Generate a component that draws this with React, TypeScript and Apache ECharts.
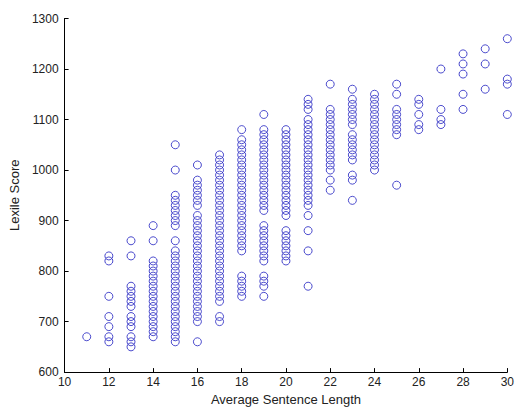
import React, { useEffect, useRef } from "react";
import * as echarts from "echarts";

const xTicks = [10, 12, 14, 16, 18, 20, 22, 24, 26, 28, 30];
const yTicks = [600, 700, 800, 900, 1000, 1100, 1200, 1300];

const c11 = [670];
const c12 = [830, 820, 750, 710, 690, 670, 660];
const c13 = [860, 830, 770, 760, 750, 740, 730, 710, 700, 690, 670, 660, 650];
const c14 = [890, 860, 820, 810, 800, 790, 780, 770, 760, 750, 740, 730, 720, 710, 700, 690, 680, 670];
const c15 = [1050, 1000, 950, 940, 930, 920, 910, 900, 890, 860, 840, 830, 820, 810, 800, 790, 780, 770, 760, 750, 740, 730, 720, 710, 700, 690, 680, 670, 660];
const c16 = [1010, 980, 970, 960, 950, 940, 930, 910, 900, 890, 880, 870, 860, 850, 840, 830, 820, 810, 800, 790, 780, 770, 760, 750, 740, 730, 720, 710, 700, 660];
const c17 = [1030, 1020, 1010, 1000, 990, 980, 970, 960, 950, 940, 930, 920, 910, 900, 890, 880, 870, 860, 850, 840, 830, 820, 810, 800, 790, 780, 770, 760, 750, 740, 710, 700];
const c18 = [1080, 1060, 1050, 1040, 1030, 1020, 1010, 1000, 990, 980, 970, 960, 950, 940, 930, 920, 910, 900, 890, 880, 870, 860, 850, 840, 790, 780, 770, 760, 750];
const c19 = [1110, 1080, 1070, 1060, 1050, 1040, 1030, 1020, 1010, 1000, 990, 980, 970, 960, 950, 940, 930, 920, 890, 880, 870, 860, 850, 840, 830, 820, 790, 780, 770, 750];
const c20 = [1080, 1070, 1060, 1050, 1040, 1030, 1020, 1010, 1000, 990, 980, 970, 960, 950, 940, 930, 920, 910, 880, 870, 860, 850, 840, 830, 820];
const c21 = [1140, 1130, 1120, 1100, 1090, 1080, 1070, 1060, 1050, 1040, 1030, 1020, 1010, 1000, 990, 980, 970, 960, 950, 940, 930, 910, 880, 840, 770];
const c22 = [1170, 1120, 1110, 1100, 1090, 1080, 1070, 1060, 1050, 1040, 1030, 1020, 1010, 1000, 980, 960];
const c23 = [1160, 1140, 1130, 1120, 1110, 1100, 1090, 1070, 1060, 1050, 1040, 1030, 1020, 990, 980, 940];
const c24 = [1150, 1140, 1130, 1120, 1110, 1100, 1090, 1080, 1070, 1060, 1050, 1040, 1030, 1020, 1010, 1000];
const c25 = [1170, 1150, 1120, 1110, 1100, 1090, 1080, 1070, 970];
const c26 = [1140, 1130, 1110, 1090, 1080];
const c27 = [1200, 1120, 1100, 1090];
const c28 = [1230, 1210, 1190, 1150, 1120];
const c29 = [1240, 1210, 1160];
const c30 = [1260, 1180, 1170, 1110];

const sentenceLengths = [11, 12, 13, 14, 15, 16, 17, 18, 19, 20, 21, 22, 23, 24, 25, 26, 27, 28, 29, 30];
const scoresByLength = [c11, c12, c13, c14, c15, c16, c17, c18, c19, c20, c21, c22, c23, c24, c25, c26, c27, c28, c29, c30];

export default function App() {
  const ref = useRef<HTMLDivElement>(null);
  useEffect(() => {
    document.body.style.margin = "0";
    if (!ref.current) return;
    const chart = echarts.init(ref.current, null, { renderer: "svg" });
    const points: number[][] = [];
    sentenceLengths.forEach((x, i) => {
      scoresByLength[i].forEach((y) => points.push([x, y]));
    });
    const font = "Liberation Sans, Arial, Helvetica, sans-serif";
    chart.setOption({
      animation: false,
      backgroundColor: "#ffffff",
      grid: { left: 61, right: 5, top: 18.5, bottom: 37, containLabel: false },
      xAxis: {
        type: "value",
        min: xTicks[0],
        max: xTicks[xTicks.length - 1],
        interval: 2,
        name: "Average Sentence Length",
        nameLocation: "middle",
        nameGap: 20,
        nameTextStyle: { color: "#222", fontSize: 13, fontFamily: font },
        axisLine: { show: true, lineStyle: { color: "#000", width: 1 } },
        axisTick: { show: true, inside: true, length: 4, lineStyle: { color: "#000" } },
        axisLabel: { color: "#222", fontSize: 12, fontFamily: font, margin: 4 },
        splitLine: { show: false },
      },
      yAxis: {
        type: "value",
        min: yTicks[0],
        max: yTicks[yTicks.length - 1],
        interval: 100,
        name: "Lexile Score",
        nameLocation: "middle",
        nameGap: 36,
        nameTextStyle: { color: "#222", fontSize: 13, fontFamily: font },
        axisLine: { show: true, lineStyle: { color: "#000", width: 1 } },
        axisTick: { show: true, inside: true, length: 4, lineStyle: { color: "#000" } },
        axisLabel: {
          color: "#222",
          fontSize: 12,
          fontFamily: font,
          margin: 6,
          formatter: (v: number) => String(v),
        },
        splitLine: { show: false },
      },
      series: [
        {
          type: "scatter",
          data: points,
          symbol: "circle",
          symbolSize: 8,
          itemStyle: { color: "rgba(0,0,0,0)", borderColor: "#2020c0", borderWidth: 1 },
          emphasis: { disabled: true },
        },
      ],
    });
    return () => chart.dispose();
  }, []);
  return <div ref={ref} style={{ width: 517, height: 411 }} />;
}
